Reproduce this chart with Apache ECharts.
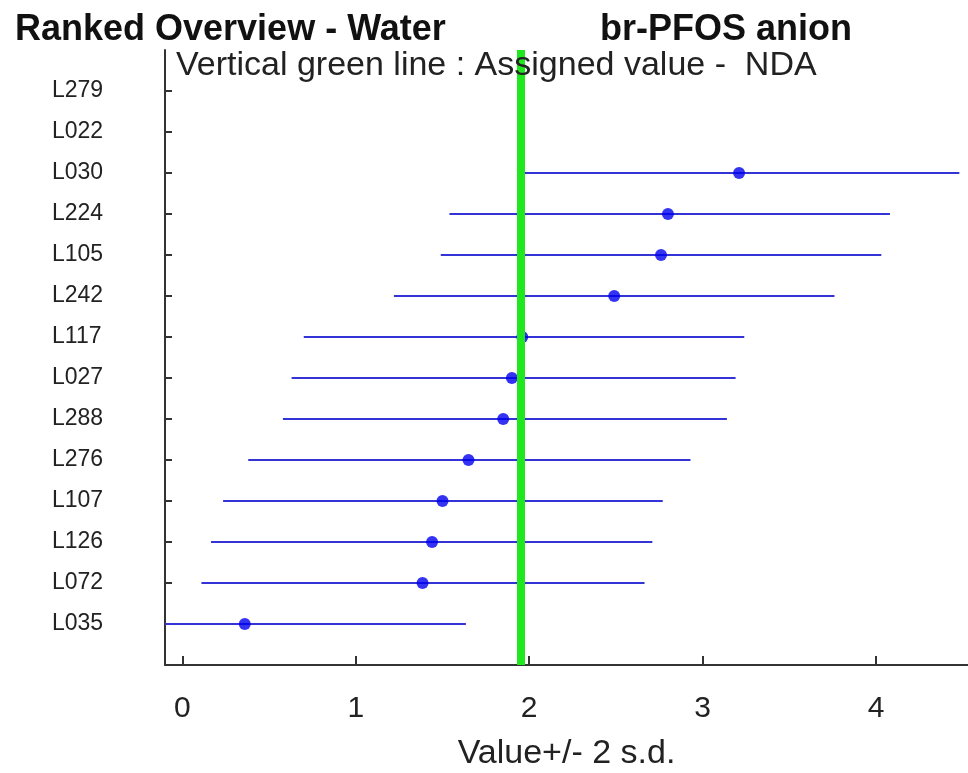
<!DOCTYPE html>
<html lang="en">
<head>
    <meta charset="UTF-8">
    <title>Ranked Overview - Water</title>
    <script src="https://cdn.jsdelivr.net/npm/echarts@6/dist/echarts.min.js"></script>
    <style>
        html, body { margin: 0; padding: 0; background: #fff; }
    </style>
</head>
<body>
    <div id="main" style="width: 968px; height: 773px;"></div>
    <script>
        // labs from top to bottom, L279 / L022 have no result
        var labs = ['L279', 'L022', 'L030', 'L224', 'L105', 'L242', 'L117', 'L027', 'L288', 'L276', 'L107', 'L126', 'L072', 'L035'];
        var values = [null, null, 3.21, 2.80, 2.76, 2.49, 1.96, 1.90, 1.85, 1.65, 1.50, 1.44, 1.385, 0.36];
        var lower = [null, null, 1.93, 1.54, 1.49, 1.22, 0.70, 0.63, 0.58, 0.38, 0.235, 0.165, 0.11, -0.915];
        var upper = [null, null, 4.48, 4.08, 4.03, 3.76, 3.24, 3.19, 3.14, 2.93, 2.77, 2.71, 2.665, 1.635];
        var assigned = 1.95;
        var xTicks = [0, 1, 2, 3, 4];

        var n = labs.length;
        var yTicks = [];
        for (var i = 0; i < n; i++) yTicks.push(n - i);

        var dots = [], bars = [];
        for (var i = 0; i < n; i++) {
            if (values[i] == null) continue;
            dots.push([values[i], n - i]);
            bars.push([lower[i], upper[i], n - i]);
        }

        var font = "'Liberation Sans', Arial, sans-serif";
        var myChart = echarts.init(document.getElementById('main'));

        var option = {
            animation: false,
            title: [
                {
                    text: 'Ranked Overview - Water',
                    left: 10, top: 7,
                    textStyle: {fontFamily: font, fontSize: 36, fontWeight: 'bold', color: '#111'}
                },
                {
                    text: 'br-PFOS anion',
                    left: 595, top: 7,
                    textStyle: {fontFamily: font, fontSize: 36, fontWeight: 'bold', color: '#111'}
                },
                {
                    text: 'Vertical green line : Assigned value -  NDA',
                    left: 171, top: 44,
                    textStyle: {fontFamily: font, fontSize: 34, fontWeight: 'normal', color: '#222'}
                }
            ],
            grid: {left: 165, right: 0, top: 50, bottom: 108, outerBoundsMode: 'none', containLabel: false},
            xAxis: {
                type: 'value',
                min: -0.1,
                max: 4.53,
                name: 'Value+/- 2 s.d.',
                nameLocation: 'middle',
                nameGap: 72,
                nameTextStyle: {fontFamily: font, fontSize: 34, color: '#222'},
                axisLine: {lineStyle: {color: '#333', width: 2}},
                axisTick: {show: true, inside: true, length: 9, customValues: xTicks, lineStyle: {color: '#333', width: 2}},
                axisLabel: {customValues: xTicks, margin: 29, fontFamily: font, fontSize: 30, color: '#222'},
                splitLine: {show: false}
            },
            yAxis: {
                type: 'value',
                min: 0,
                max: 15,
                axisLine: {show: true, onZero: false, lineStyle: {color: '#333', width: 2}},
                axisTick: {show: true, inside: true, length: 7, customValues: yTicks, lineStyle: {color: '#333', width: 2}},
                axisLabel: {
                    customValues: yTicks,
                    margin: 113,
                    align: 'left',
                    fontFamily: font, fontSize: 23, color: '#222',
                    formatter: function (v) { return labs[n - v] || ''; }
                },
                splitLine: {show: false}
            },
            series: [
                {
                    type: 'custom',
                    z: 2,
                    data: bars,
                    renderItem: function (params, api) {
                        var a = api.coord([api.value(0), api.value(2)]);
                        var b = api.coord([api.value(1), api.value(2)]);
                        var cs = params.coordSys;
                        var x1 = Math.max(a[0], cs.x);
                        var x2 = Math.min(b[0], cs.x + cs.width);
                        return {
                            type: 'line',
                            shape: {x1: x1, y1: a[1], x2: x2, y2: b[1]},
                            style: {stroke: '#3434d6', lineWidth: 2}
                        };
                    }
                },
                {
                    type: 'scatter',
                    z: 3,
                    symbol: 'circle',
                    symbolSize: 12,
                    itemStyle: {color: '#0000ee'},
                    data: dots
                },
                {
                    type: 'scatter',
                    z: 5,
                    data: [],
                    markLine: {
                        silent: true,
                        symbol: 'none',
                        label: {show: false},
                        lineStyle: {color: '#1fe81f', width: 8, type: 'solid'},
                        data: [{xAxis: assigned}]
                    }
                }
            ]
        };

        myChart.setOption(option);
    </script>
</body>
</html>
